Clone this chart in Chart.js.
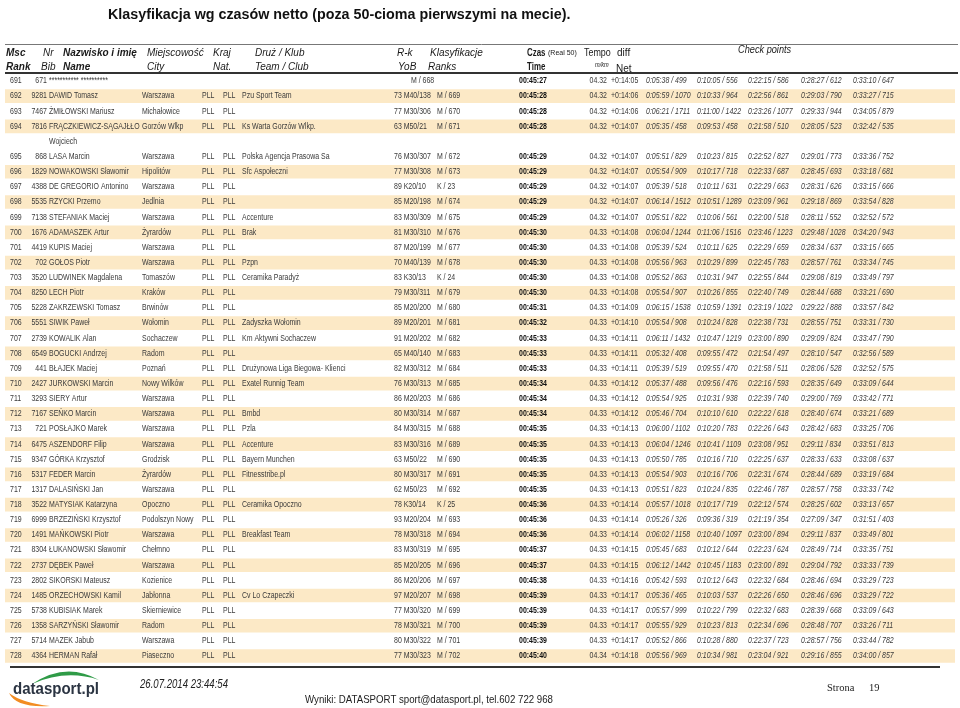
<!DOCTYPE html>
<html>
<head>
<meta charset="utf-8">
<script src="https://cdn.jsdelivr.net/npm/chart.js@4.4.1/dist/chart.umd.min.js"></script>
<style>
  html, body { margin: 0; padding: 0; background: #fff; }
  canvas { display: block; }
</style>
</head>
<body>
<canvas id="results" width="960" height="708"></canvas>
<script>
  const ranks = [691, 692, 693, 694, 695, 696, 697, 698, 699, 700, 701, 702, 703, 704, 705, 706, 707, 708, 709,
    710, 711, 712, 713, 714, 715, 716, 717, 718, 719, 720, 721, 722, 723, 724, 725, 726, 727, 728];
  const bibs = ['671', '9281', '7467', '7816', '868', '1829', '4388', '5535', '7138', '1676', '4419', '702', '3520',
    '8250', '5228', '5551', '2739', '6549', '441', '2427', '3293', '7167', '721', '6475', '9347', '5317', '1317',
    '3522', '6999', '1491', '8304', '2737', '2802', '1485', '5738', '1358', '5714', '4364'];
  const names = ['*********** **********', 'DAWID Tomasz', 'ŻMIŁOWSKI Mariusz', 'FRĄCZKIEWICZ-SĄGAJŁŁO Wojciech',
    'LASA Marcin', 'NOWAKOWSKI Sławomir', 'DE GREGORIO Antonino', 'RZYCKI Przemo', 'STEFANIAK Maciej',
    'ADAMASZEK Artur', 'KUPIS Maciej', 'GOŁOS Piotr', 'LUDWINEK Magdalena', 'LECH Piotr', 'ZAKRZEWSKI Tomasz',
    'SIWIK Paweł', 'KOWALIK Alan', 'BOGUCKI Andrzej', 'BŁAJEK Maciej', 'JURKOWSKI Marcin', 'SIERY Artur',
    'SEŃKO Marcin', 'POSŁAJKO Marek', 'ASZENDORF Filip', 'GÓRKA Krzysztof', 'FEDER Marcin', 'DALASIŃSKI Jan',
    'MATYSIAK Katarzyna', 'BRZEZIŃSKI Krzysztof', 'MAŃKOWSKI Piotr', 'ŁUKANOWSKI Sławomir', 'DĘBEK Paweł',
    'SIKORSKI Mateusz', 'ORZECHOWSKI Kamil', 'KUBISIAK Marek', 'SARZYŃSKI Sławomir', 'MAZEK Jabub', 'HERMAN Rafał'];
  const cities = ['', 'Warszawa', 'Michałowice', 'Gorzów Wlkp', 'Warszawa', 'Hipolitów', 'Warszawa', 'Jedlnia',
    'Warszawa', 'Żyrardów', 'Warszawa', 'Warszawa', 'Tomaszów', 'Kraków', 'Brwinów', 'Wołomin', 'Sochaczew', 'Radom',
    'Poznań', 'Nowy Wilków', 'Warszawa', 'Warszawa', 'Warszawa', 'Warszawa', 'Grodzisk', 'Żyrardów', 'Warszawa',
    'Opoczno', 'Podolszyn Nowy', 'Warszawa', 'Chełmno', 'Warszawa', 'Kozienice', 'Jabłonna', 'Skierniewice', 'Radom',
    'Warszawa', 'Piaseczno'];
  const nats = ['', 'PLL', 'PLL', 'PLL', 'PLL', 'PLL', 'PLL', 'PLL', 'PLL', 'PLL', 'PLL', 'PLL', 'PLL', 'PLL', 'PLL',
    'PLL', 'PLL', 'PLL', 'PLL', 'PLL', 'PLL', 'PLL', 'PLL', 'PLL', 'PLL', 'PLL', 'PLL', 'PLL', 'PLL', 'PLL', 'PLL',
    'PLL', 'PLL', 'PLL', 'PLL', 'PLL', 'PLL', 'PLL'];
  const clubs = ['', 'Pzu Sport Team', '', 'Ks Warta Gorzów Wlkp.', 'Polska Agencja Prasowa Sa', 'Sfc Aspołeczni', '',
    '', 'Accenture', 'Brak', '', 'Pzpn', 'Ceramika Paradyż', '', '', 'Zadyszka Wołomin', 'Km Aktywni Sochaczew', '',
    'Drużynowa Liga Biegowa- Klienci', 'Exatel Runnig Team', '', 'Bmbd', 'Pzla', 'Accenture', 'Bayern Munchen',
    'Fitnesstribe.pl', '', 'Ceramika Opoczno', '', 'Breakfast Team', '', '', '', 'Cv Lo Czapeczki', '', '', '', ''];
  const yobs = ['', '73', '77', '63', '76', '77', '89', '85', '83', '81', '87', '70', '83', '79', '85', '89', '91', '65',
    '82', '76', '86', '80', '84', '83', '63', '80', '62', '78', '93', '78', '83', '85', '86', '97', '77', '78', '80', '77'];
  const cats = ['', 'M40/138', 'M30/306', 'M50/21', 'M30/307', 'M30/308', 'K20/10', 'M20/198', 'M30/309', 'M30/310',
    'M20/199', 'M40/139', 'K30/13', 'M30/311', 'M20/200', 'M20/201', 'M20/202', 'M40/140', 'M30/312', 'M30/313',
    'M20/203', 'M30/314', 'M30/315', 'M30/316', 'M50/22', 'M30/317', 'M50/23', 'K30/14', 'M20/204', 'M30/318',
    'M30/319', 'M20/205', 'M20/206', 'M20/207', 'M30/320', 'M30/321', 'M30/322', 'M30/323'];
  const sexRanks = ['M / 668', 'M / 669', 'M / 670', 'M / 671', 'M / 672', 'M / 673', 'K / 23', 'M / 674', 'M / 675',
    'M / 676', 'M / 677', 'M / 678', 'K / 24', 'M / 679', 'M / 680', 'M / 681', 'M / 682', 'M / 683', 'M / 684',
    'M / 685', 'M / 686', 'M / 687', 'M / 688', 'M / 689', 'M / 690', 'M / 691', 'M / 692', 'K / 25', 'M / 693',
    'M / 694', 'M / 695', 'M / 696', 'M / 697', 'M / 698', 'M / 699', 'M / 700', 'M / 701', 'M / 702'];
  const times = ['00:45:27', '00:45:28', '00:45:28', '00:45:28', '00:45:29', '00:45:29', '00:45:29', '00:45:29',
    '00:45:29', '00:45:30', '00:45:30', '00:45:30', '00:45:30', '00:45:30', '00:45:31', '00:45:32', '00:45:33',
    '00:45:33', '00:45:33', '00:45:34', '00:45:34', '00:45:34', '00:45:35', '00:45:35', '00:45:35', '00:45:35',
    '00:45:35', '00:45:36', '00:45:36', '00:45:36', '00:45:37', '00:45:37', '00:45:38', '00:45:39', '00:45:39',
    '00:45:39', '00:45:39', '00:45:40'];
  const tempos = ['04.32', '04.32', '04.32', '04.32', '04.32', '04.32', '04.32', '04.32', '04.32', '04.33', '04.33',
    '04.33', '04.33', '04.33', '04.33', '04.33', '04.33', '04.33', '04.33', '04.33', '04.33', '04.33', '04.33', '04.33',
    '04.33', '04.33', '04.33', '04.33', '04.33', '04.33', '04.33', '04.33', '04.33', '04.33', '04.33', '04.33', '04.33',
    '04.34'];
  const diffs = ['+0:14:05', '+0:14:06', '+0:14:06', '+0:14:07', '+0:14:07', '+0:14:07', '+0:14:07', '+0:14:07',
    '+0:14:07', '+0:14:08', '+0:14:08', '+0:14:08', '+0:14:08', '+0:14:08', '+0:14:09', '+0:14:10', '+0:14:11',
    '+0:14:11', '+0:14:11', '+0:14:12', '+0:14:12', '+0:14:12', '+0:14:13', '+0:14:13', '+0:14:13', '+0:14:13',
    '+0:14:13', '+0:14:14', '+0:14:14', '+0:14:14', '+0:14:15', '+0:14:15', '+0:14:16', '+0:14:17', '+0:14:17',
    '+0:14:17', '+0:14:17', '+0:14:18'];
  const cp1 = ['0:05:38 / 499', '0:05:59 / 1070', '0:06:21 / 1711', '0:05:35 / 458', '0:05:51 / 829', '0:05:54 / 909',
    '0:05:39 / 518', '0:06:14 / 1512', '0:05:51 / 822', '0:06:04 / 1244', '0:05:39 / 524', '0:05:56 / 963',
    '0:05:52 / 863', '0:05:54 / 907', '0:06:15 / 1538', '0:05:54 / 908', '0:06:11 / 1432', '0:05:32 / 408',
    '0:05:39 / 519', '0:05:37 / 488', '0:05:54 / 925', '0:05:46 / 704', '0:06:00 / 1102', '0:06:04 / 1246',
    '0:05:50 / 785', '0:05:54 / 903', '0:05:51 / 823', '0:05:57 / 1018', '0:05:26 / 326', '0:06:02 / 1158',
    '0:05:45 / 683', '0:06:12 / 1442', '0:05:42 / 593', '0:05:36 / 465', '0:05:57 / 999', '0:05:55 / 929',
    '0:05:52 / 866', '0:05:56 / 969'];
  const cp2 = ['0:10:05 / 556', '0:10:33 / 964', '0:11:00 / 1422', '0:09:53 / 458', '0:10:23 / 815', '0:10:17 / 718',
    '0:10:11 / 631', '0:10:51 / 1289', '0:10:06 / 561', '0:11:06 / 1516', '0:10:11 / 625', '0:10:29 / 899',
    '0:10:31 / 947', '0:10:26 / 855', '0:10:59 / 1391', '0:10:24 / 828', '0:10:47 / 1219', '0:09:55 / 472',
    '0:09:55 / 470', '0:09:56 / 476', '0:10:31 / 938', '0:10:10 / 610', '0:10:20 / 783', '0:10:41 / 1109',
    '0:10:16 / 710', '0:10:16 / 706', '0:10:24 / 835', '0:10:17 / 719', '0:09:36 / 319', '0:10:40 / 1097',
    '0:10:12 / 644', '0:10:45 / 1183', '0:10:12 / 643', '0:10:03 / 537', '0:10:22 / 799', '0:10:23 / 813',
    '0:10:28 / 880', '0:10:34 / 981'];
  const cp3 = ['0:22:15 / 586', '0:22:56 / 861', '0:23:26 / 1077', '0:21:58 / 510', '0:22:52 / 827', '0:22:33 / 687',
    '0:22:29 / 663', '0:23:09 / 961', '0:22:00 / 518', '0:23:46 / 1223', '0:22:29 / 659', '0:22:45 / 783',
    '0:22:55 / 844', '0:22:40 / 749', '0:23:19 / 1022', '0:22:38 / 731', '0:23:00 / 890', '0:21:54 / 497',
    '0:21:58 / 511', '0:22:16 / 593', '0:22:39 / 740', '0:22:22 / 618', '0:22:26 / 643', '0:23:08 / 951',
    '0:22:25 / 637', '0:22:31 / 674', '0:22:46 / 787', '0:22:12 / 574', '0:21:19 / 354', '0:23:00 / 894',
    '0:22:23 / 624', '0:23:00 / 891', '0:22:32 / 684', '0:22:26 / 650', '0:22:32 / 683', '0:22:34 / 696',
    '0:22:37 / 723', '0:23:04 / 921'];
  const cp4 = ['0:28:27 / 612', '0:29:03 / 790', '0:29:33 / 944', '0:28:05 / 523', '0:29:01 / 773', '0:28:45 / 693',
    '0:28:31 / 626', '0:29:18 / 869', '0:28:11 / 552', '0:29:48 / 1028', '0:28:34 / 637', '0:28:57 / 761',
    '0:29:08 / 819', '0:28:44 / 688', '0:29:22 / 888', '0:28:55 / 751', '0:29:09 / 824', '0:28:10 / 547',
    '0:28:06 / 528', '0:28:35 / 649', '0:29:00 / 769', '0:28:40 / 674', '0:28:42 / 683', '0:29:11 / 834',
    '0:28:33 / 633', '0:28:44 / 689', '0:28:57 / 758', '0:28:25 / 602', '0:27:09 / 347', '0:29:11 / 837',
    '0:28:49 / 714', '0:29:04 / 792', '0:28:46 / 694', '0:28:46 / 696', '0:28:39 / 668', '0:28:48 / 707',
    '0:28:57 / 756', '0:29:16 / 855'];
  const cp5 = ['0:33:10 / 647', '0:33:27 / 715', '0:34:05 / 879', '0:32:42 / 535', '0:33:36 / 752', '0:33:18 / 681',
    '0:33:15 / 666', '0:33:54 / 828', '0:32:52 / 572', '0:34:20 / 943', '0:33:15 / 665', '0:33:34 / 745',
    '0:33:49 / 797', '0:33:21 / 690', '0:33:57 / 842', '0:33:31 / 730', '0:33:47 / 790', '0:32:56 / 589',
    '0:32:52 / 575', '0:33:09 / 644', '0:33:42 / 771', '0:33:21 / 689', '0:33:25 / 706', '0:33:51 / 813',
    '0:33:08 / 637', '0:33:19 / 684', '0:33:33 / 742', '0:33:13 / 657', '0:31:51 / 403', '0:33:49 / 801',
    '0:33:35 / 751', '0:33:33 / 739', '0:33:29 / 723', '0:33:29 / 722', '0:33:09 / 643', '0:33:26 / 711',
    '0:33:44 / 782', '0:34:00 / 857'];

  // layout
  const FONT = '"Liberation Sans", Arial, sans-serif';
  const BODY = 8.5;
  const NARROW = 0.82;
  const NAME_WIDTH = 100;
  const BAND = [5, 955];

  function text(ctx, s, x, y, font, color, align, sx) {
    if (!s) return;
    ctx.save();
    ctx.font = font;
    ctx.fillStyle = color;
    ctx.textAlign = align || 'left';
    ctx.textBaseline = 'middle';
    ctx.translate(x, y);
    ctx.scale(sx || 1, 1);
    ctx.fillText(s, 0, 0);
    ctx.restore();
  }

  function fitText(ctx, s, x, y, font, color, width, baseline) {
    ctx.save();
    ctx.font = font;
    ctx.fillStyle = color;
    ctx.textBaseline = baseline || 'middle';
    const w = ctx.measureText(s).width;
    ctx.translate(x, y);
    ctx.scale(width / w, 1);
    ctx.fillText(s, 0, 0);
    ctx.restore();
  }

  const canvas = document.getElementById('results');
  const ctx = canvas.getContext('2d');

  // split long names onto two lines and give every line its own slot
  ctx.font = `${BODY}px ${FONT}`;
  const nameLines = names.map((n) => {
    if (ctx.measureText(n).width * NARROW <= NAME_WIDTH) return [n];
    const cut = n.lastIndexOf(' ');
    return [n.slice(0, cut), n.slice(cut + 1)];
  });
  const slots = [];
  let next = 0;
  nameLines.forEach((lines) => {
    slots.push(next);
    next += lines.length;
  });
  const slotCount = next;

  const bandData = ranks
    .map((r, i) => ({ r, slot: slots[i] }))
    .filter((d) => d.r % 2 === 0)
    .map((d) => ({ x: BAND, y: d.slot }));

  const columns = [
    { x: 10, data: ranks.map(String) },
    { x: 47, data: bibs, align: 'right' },
    { x: 142, data: cities },
    { x: 202, data: nats },
    { x: 223, data: nats },
    { x: 242, data: clubs },
    { x: 394, data: yobs.map((y, i) => (y ? `${y} ${cats[i]}` : '')) },
    { x: 519, data: times, bold: true, color: '#111' },
    { x: 607, data: tempos, align: 'right' },
    { x: 611, data: diffs },
    { x: 646, data: cp1, italic: true },
    { x: 697, data: cp2, italic: true },
    { x: 748, data: cp3, italic: true },
    { x: 801, data: cp4, italic: true },
    { x: 853, data: cp5, italic: true },
  ];

  const header = [
    ['Msc', 6, 53, 'bold italic 10px'], ['Rank', 6, 67, 'bold italic 10px'],
    ['Nr', 43, 53, 'italic 10px'], ['Bib', 41, 67, 'italic 10px'],
    ['Nazwisko i imię', 63, 53, 'bold italic 10px'], ['Name', 63, 67, 'bold italic 10px'],
    ['Miejscowość', 147, 53, 'italic 10px'], ['City', 147, 67, 'italic 10px'],
    ['Kraj', 213, 53, 'italic 10px'], ['Nat.', 213, 67, 'italic 10px'],
    ['Druż / Klub', 255, 53, 'italic 10px'], ['Team / Club', 255, 67, 'italic 10px'],
    ['R-k', 397, 53, 'italic 10px'], ['YoB', 398, 67, 'italic 10px'],
    ['Klasyfikacje', 430, 53, 'italic 10px'], ['Ranks', 428, 67, 'italic 10px'],
    ['Czas', 527, 53, 'bold 11px', 0.72], ['Time', 527, 67, 'bold 11px', 0.72],
    ['(Real 50)', 548, 53, '7px'],
    ['Tempo', 584, 53, '10.5px', 0.85], ['m/km', 595, 65, 'italic 8px', 0.7],
    ['diff', 617, 53, '10px'], ['Net', 616, 69, '10px'],
    ['Check points', 738, 50, 'italic 10px', 0.92],
  ];

  const tablePlugin = {
    id: 'resultsTable',
    afterDatasetsDraw(chart) {
      const { ctx } = chart;
      const xs = chart.scales.x;
      const ys = chart.scales.y;

      ranks.forEach((r, i) => {
        const y = ys.getPixelForValue(slots[i]);
        columns.forEach((col) => {
          const style = `${col.italic ? 'italic ' : ''}${col.bold ? 'bold ' : ''}${BODY}px ${FONT}`;
          text(ctx, col.data[i], xs.getPixelForValue(col.x), y, style, col.color || '#3a3a3a', col.align, NARROW);
        });
        nameLines[i].forEach((line, k) => {
          text(ctx, line, xs.getPixelForValue(49), ys.getPixelForValue(slots[i] + k),
            `${BODY}px ${FONT}`, '#3a3a3a', 'left', NARROW);
        });
        const rx = yobs[i] ? 437 : 411;
        text(ctx, sexRanks[i], xs.getPixelForValue(rx), y, `${BODY}px ${FONT}`, '#3a3a3a', 'left', NARROW);
      });
    },
    afterDraw(chart) {
      const { ctx } = chart;
      // title
      text(ctx, 'Klasyfikacja wg czasów netto (poza 50-cioma pierwszymi na mecie).', 108, 15,
        `bold 14.3px ${FONT}`, '#111');

      // header rules
      ctx.save();
      ctx.strokeStyle = '#777';
      ctx.lineWidth = 1;
      ctx.beginPath();
      ctx.moveTo(5, 44.5);
      ctx.lineTo(958, 44.5);
      ctx.stroke();
      ctx.strokeStyle = '#333';
      ctx.lineWidth = 2;
      ctx.beginPath();
      ctx.moveTo(5, 73);
      ctx.lineTo(958, 73);
      ctx.stroke();
      ctx.beginPath();
      ctx.moveTo(10, 667);
      ctx.lineTo(940, 667);
      ctx.stroke();
      ctx.restore();

      header.forEach(([s, x, y, f, sx]) => text(ctx, s, x, y, `${f} ${FONT}`, '#1a1a1a', 'left', sx));

      // footer logo
      ctx.save();
      ctx.fillStyle = '#2f9b47';
      ctx.beginPath();
      ctx.moveTo(32, 684);
      ctx.quadraticCurveTo(66, 661, 99, 680);
      ctx.quadraticCurveTo(66, 669, 32, 684);
      ctx.fill();
      ctx.fillStyle = '#f28c22';
      ctx.beginPath();
      ctx.moveTo(9, 693);
      ctx.quadraticCurveTo(16, 708, 50, 706);
      ctx.quadraticCurveTo(22, 703, 9, 693);
      ctx.fill();
      ctx.restore();
      fitText(ctx, 'datasport.pl', 13, 694, `bold 16px ${FONT}`, '#2b3442', 86, 'alphabetic');

      fitText(ctx, '26.07.2014 23:44:54', 140, 685, `italic 12.5px ${FONT}`, '#222', 88);
      fitText(ctx, 'Wyniki: DATASPORT sport@datasport.pl, tel.602 722 968', 305, 700,
        `11px ${FONT}`, '#222', 248);
      text(ctx, 'Strona', 827, 688, '10.5px "Liberation Serif", "Times New Roman", serif', '#222');
      text(ctx, '19', 869, 688, '10.5px "Liberation Serif", "Times New Roman", serif', '#222');
    },
  };

  new Chart(ctx, {
    type: 'bar',
    data: {
      datasets: [{
        data: bandData,
        backgroundColor: '#fce9c6',
        borderWidth: 0,
        barThickness: 13,
      }],
    },
    options: {
      indexAxis: 'y',
      responsive: false,
      animation: false,
      events: [],
      layout: { padding: { left: 5, right: 5, top: 73.4, bottom: 44.4 } },
      scales: {
        x: { type: 'linear', min: BAND[0], max: BAND[1], display: false },
        y: { type: 'linear', min: -0.5, max: slotCount - 0.5, reverse: true, offset: false, display: false },
      },
      plugins: {
        legend: { display: false },
        tooltip: { enabled: false },
      },
    },
    plugins: [tablePlugin],
  });
</script>
</body>
</html>
